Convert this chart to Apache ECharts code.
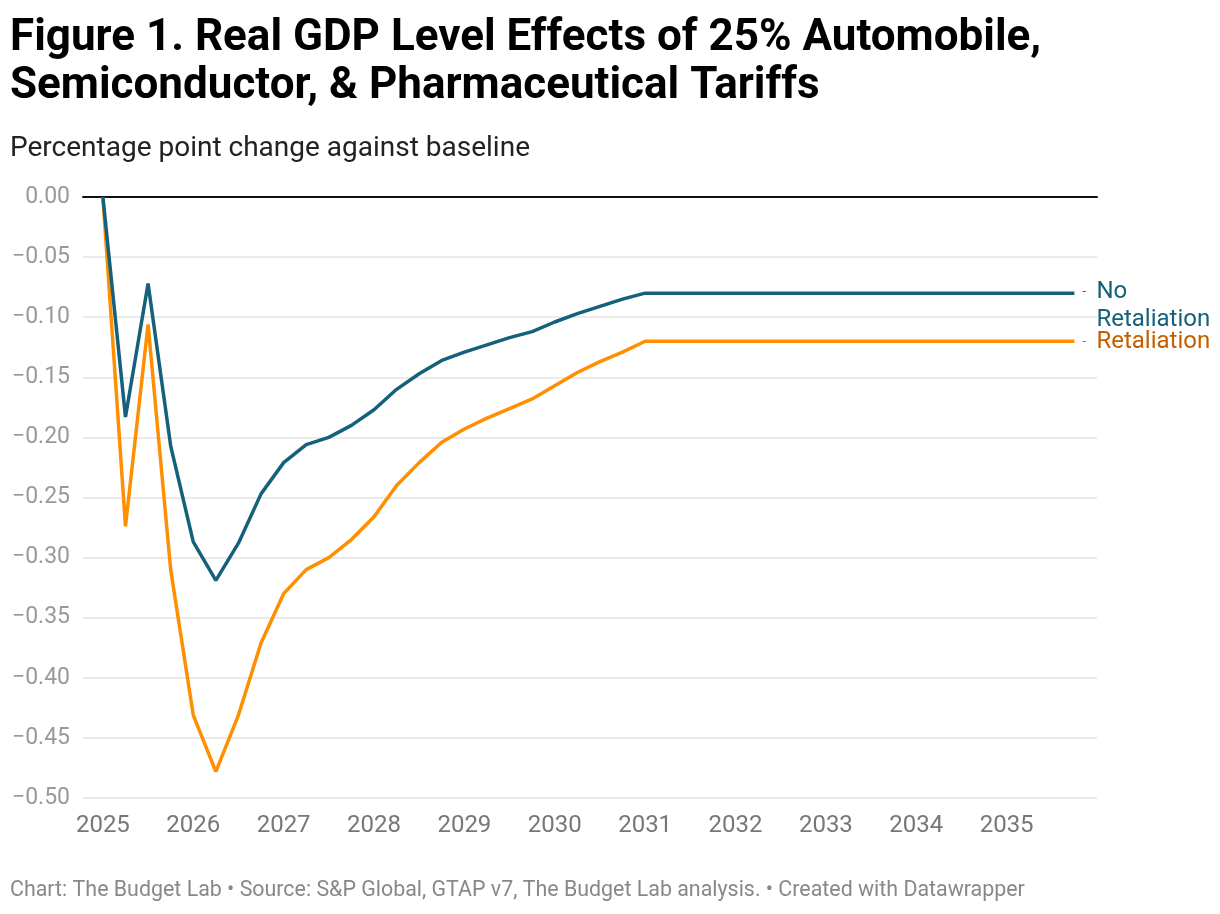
<!DOCTYPE html>
<html>
<head>
<meta charset="utf-8">
<script src="https://cdn.jsdelivr.net/npm/echarts@6/dist/echarts.min.js"></script>
<style>
html,body{margin:0;padding:0;background:#fff;}
#chart{width:1220px;height:914px;}
</style>
</head>
<body>
<div id="chart"></div>
<script>
// Data
const years = [2025, 2026, 2027, 2028, 2029, 2030, 2031, 2032, 2033, 2034, 2035];
const quarters = [0, 0.25, 0.5, 0.75];
const noRetaliation = [
  0.000, -0.183, -0.072, -0.207,
  -0.287, -0.319, -0.288, -0.247,
  -0.221, -0.206, -0.200, -0.190,
  -0.177, -0.160, -0.147, -0.136,
  -0.129, -0.123, -0.117, -0.112,
  -0.104, -0.097, -0.091, -0.085,
  -0.080, -0.080, -0.080, -0.080,
  -0.080, -0.080, -0.080, -0.080,
  -0.080, -0.080, -0.080, -0.080,
  -0.080, -0.080, -0.080, -0.080,
  -0.080, -0.080, -0.080, -0.080
];
const retaliation = [
  0.000, -0.274, -0.106, -0.310,
  -0.431, -0.478, -0.431, -0.371,
  -0.330, -0.310, -0.300, -0.285,
  -0.266, -0.240, -0.221, -0.204,
  -0.193, -0.184, -0.176, -0.168,
  -0.157, -0.146, -0.137, -0.129,
  -0.120, -0.120, -0.120, -0.120,
  -0.120, -0.120, -0.120, -0.120,
  -0.120, -0.120, -0.120, -0.120,
  -0.120, -0.120, -0.120, -0.120,
  -0.120, -0.120, -0.120, -0.120
];
const yTicks = [0, -0.05, -0.10, -0.15, -0.20, -0.25, -0.30, -0.35, -0.40, -0.45, -0.50];

const periods = [];
years.forEach(y => quarters.forEach(q => periods.push(y + q)));
const toPairs = vals => vals.map((v, i) => [periods[i], v]);

const chart = echarts.init(document.getElementById('chart'));
const FONT = 'Roboto';
const BLUE = '#15607a';
const ORANGE = '#ff8f00';
const ORANGE_TEXT = '#c45f00';

chart.setOption({
  animation: false,
  backgroundColor: '#fff',
  textStyle: { fontFamily: FONT },
  title: [
    {
      text: 'Figure 1. Real GDP Level Effects of 25% Automobile,\nSemiconductor, & Pharmaceutical Tariffs',
      left: 5, top: 10,
      textStyle: { fontFamily: FONT, fontSize: 44, fontWeight: 'bold', color: '#000', lineHeight: 48 }
    },
    {
      text: 'Percentage point change against baseline',
      left: 5, top: 130,
      textStyle: { fontFamily: FONT, fontSize: 28, fontWeight: 'normal', color: '#222' }
    },
    {
      text: 'Chart: The Budget Lab • Source: S&P Global, GTAP v7, The Budget Lab analysis. • Created with Datawrapper',
      left: 5, top: 875,
      textStyle: { fontFamily: FONT, fontSize: 21.4, fontWeight: 'normal', color: '#888' }
    }
  ],
  grid: { left: 83, right: 123, top: 197, height: 601, containLabel: false },
  xAxis: [
    {
      type: 'value',
      min: 2024.78, max: 2036,
      axisLine: { show: false },
      axisTick: { show: false },
      splitLine: { show: false },
      axisLabel: {
        customValues: years,
        formatter: v => String(Math.round(v)),
        fontSize: 24, color: '#777', margin: 16, fontFamily: FONT
      }
    },
    {
      type: 'value', position: 'top',
      min: 2024.78, max: 2036,
      axisLine: { show: true, lineStyle: { color: '#111', width: 2 } },
      axisTick: { show: false },
      axisLabel: { show: false },
      splitLine: { show: false }
    }
  ],
  yAxis: {
    type: 'value',
    min: -0.5, max: 0, interval: 0.05,
    axisLine: { show: false },
    axisTick: { show: false },
    axisLabel: {
      customValues: yTicks,
      formatter: v => (v < -1e-9 ? '\u2212' + Math.abs(v).toFixed(2) : '0.00'),
      fontSize: 23, color: '#999', margin: 13, fontFamily: FONT
    },
    splitLine: { show: true, lineStyle: { color: '#e3e3e3', width: 1.5 } }
  },
  series: [
    {
      name: 'No Retaliation',
      type: 'line',
      data: toPairs(noRetaliation),
      showSymbol: false,
      symbol: 'none',
      lineStyle: { color: BLUE, width: 3.5 },
      itemStyle: { color: BLUE },
      z: 3,
      endLabel: {
        show: true,
        distance: 8,
        offset: [0, 13],
        formatter: '{d|-}{t|No}\n{p|}{t|Retaliation}',
        rich: {
          d: { width: 14, fontSize: 13, color: BLUE, fontFamily: FONT },
          p: { width: 14 },
          t: { fontSize: 24, color: BLUE, fontFamily: FONT, lineHeight: 28 }
        }
      }
    },
    {
      name: 'Retaliation',
      type: 'line',
      data: toPairs(retaliation),
      showSymbol: false,
      symbol: 'none',
      lineStyle: { color: ORANGE, width: 3.5 },
      itemStyle: { color: ORANGE },
      z: 2,
      endLabel: {
        show: true,
        distance: 8,
        offset: [0, 1],
        formatter: '{d|-}{t|Retaliation}',
        rich: {
          d: { width: 14, fontSize: 13, color: ORANGE_TEXT, fontFamily: FONT },
          t: { fontSize: 24, color: ORANGE_TEXT, fontFamily: FONT, lineHeight: 28 }
        }
      }
    }
  ]
});
</script>
</body>
</html>
